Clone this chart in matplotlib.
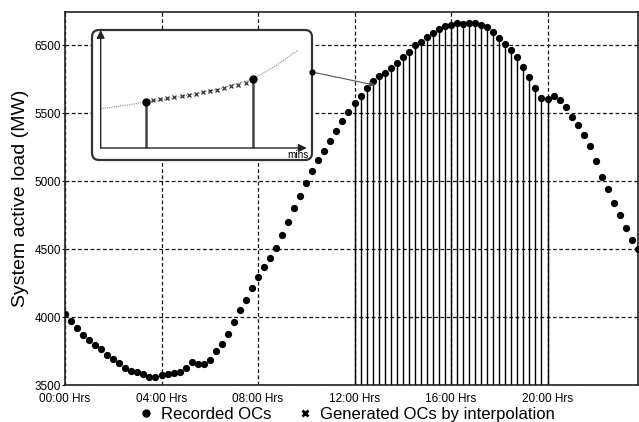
import numpy as np
import matplotlib.pyplot as plt
from matplotlib.patches import FancyBboxPatch

plt.rcParams['font.family'] = ['Liberation Sans', 'DejaVu Sans']

# recorded operating conditions, one every 15 minutes (MW)
load_mw = [4022, 3971, 3919, 3871, 3831, 3794, 3765, 3721, 3689, 3660, 3627, 3603,
           3593, 3581, 3561, 3559, 3571, 3581, 3586, 3598, 3623, 3667, 3657, 3654,
           3684, 3750, 3804, 3875, 3961, 4054, 4127, 4213, 4292, 4370, 4432, 4507,
           4601, 4701, 4801, 4892, 4988, 5076, 5158, 5224, 5294, 5368, 5443, 5505,
           5571, 5625, 5682, 5735, 5774, 5796, 5829, 5870, 5914, 5951, 6000, 6024,
           6057, 6090, 6116, 6140, 6147, 6160, 6157, 6164, 6160, 6147, 6130, 6098,
           6049, 6005, 5963, 5910, 5836, 5767, 5686, 5613, 5603, 5625, 5596, 5546,
           5473, 5412, 5338, 5257, 5149, 5032, 4939, 4840, 4750, 4652, 4566, 4498]
step_h = 0.25
stem_from, stem_to = 12.0, 20.0
pointer_idx = 51

x_ticks = [0, 4, 8, 12, 16, 20]
x_labels = ['00:00 Hrs', '04:00 Hrs', '08:00 Hrs', '12:00 Hrs', '16:00 Hrs', '20:00 Hrs']
y_ticks = [3500, 4000, 4500, 5000, 5500, 6000]
y_labels = ['3500', '4000', '4500', '5000', '5500', '6500']

# inset: minutes between two recorded points
inset_rec_min = [0, 15]
inset_rec_val = [46, 69]
inset_gen_min = [1, 2, 3, 4, 5, 6, 7, 8, 9, 10, 11, 12, 13, 14]
inset_gen_val = [48, 49, 50, 51, 52, 53.3, 54.3, 55.7, 57, 58.3, 60, 61.7, 63.3, 65.3]
inset_trend_min = [-6.4, -3, 0, 5, 10, 15, 18, 21.4]
inset_trend_val = [39.5, 42.5, 46, 51.5, 58.5, 69, 81, 98]

load = np.array(load_mw, dtype=float)
t = np.arange(len(load)) * step_h

fig = plt.figure(figsize=(6.39, 4.22), dpi=100)
ax = fig.add_axes([65 / 639, 1 - 385 / 422, 573 / 639, 373 / 422])

sel = (t >= stem_from) & (t <= stem_to)
ax.vlines(t[sel], 3500, load[sel], color='black', lw=1.0, zorder=2)
rec, = ax.plot(t, load, 'o', color='black', ms=4.2, zorder=3, label='Recorded OCs')

ax.set_xlim(0, 23.75)
ax.set_ylim(3500, 6243)
ax.set_xticks(x_ticks)
ax.set_xticklabels(x_labels)
ax.set_yticks(y_ticks)
ax.set_yticklabels(y_labels)
ax.tick_params(axis='x', length=0, pad=6, labelsize=8.5)
ax.tick_params(axis='y', length=2, pad=1, labelsize=8.5)
ax.grid(True, linestyle=(0, (3, 2)), color='#111', lw=0.9, zorder=1)
for s in ax.spines.values():
    s.set_color('#222')
    s.set_linewidth(1.2)
ax.set_ylabel('System active load (MW)', fontsize=14, labelpad=4)

# inset
ins = fig.add_axes([92 / 639, 1 - 160 / 422, 220 / 639, 130 / 422])
ins.set_zorder(5)
ins.axis('off')
ins.set_xlim(-7.59, 23.35)
ins.set_ylim(-12, 118)
box = FancyBboxPatch((0, 0), 1, 1, boxstyle='round,pad=0,rounding_size=0.032',
                     mutation_aspect=1.69, transform=ins.transAxes,
                     facecolor='white', edgecolor='#333', lw=1.6, clip_on=False, zorder=0)
ins.add_patch(box)

ins.plot(inset_trend_min, inset_trend_val, color='#888', lw=0.8, ls=(0, (1, 1)), zorder=1)
ins.vlines(inset_rec_min, 0, inset_rec_val, color='#444', lw=1.8, zorder=2)
gen, = ins.plot(inset_gen_min, inset_gen_val, 'x', color='#333', ms=3.5, mew=0.9, zorder=3,
                label='Generated OCs by interpolation')
ins.plot(inset_rec_min, inset_rec_val, 'o', color='black', ms=5, zorder=4)

arrow = dict(arrowstyle='-|>', color='#222', lw=1.0, mutation_scale=12,
             shrinkA=0, shrinkB=0)
ins.annotate('', xy=(22.6, 0), xytext=(-6.37, 0), arrowprops=arrow)
ins.annotate('', xy=(-6.37, 118), xytext=(-6.37, 0), arrowprops=arrow, annotation_clip=False)
ins.text(21.3, -7, 'mins', fontsize=7.2, ha='center', va='center')

# pointer from inset to the chart
start = (1.0, 0.677)
ins.plot(*start, 'o', color='black', ms=3.5, transform=ins.transAxes, clip_on=False, zorder=6)
ins.annotate('', xy=(t[pointer_idx] + 0.1, load[pointer_idx] - 30), xycoords=ax.transData,
             xytext=start, textcoords='axes fraction', annotation_clip=False,
             arrowprops=dict(arrowstyle='-|>', color='#555', lw=0.8, mutation_scale=8,
                             shrinkA=0, shrinkB=0))

# legend
leg_gen = plt.Line2D([], [], marker='x', ls='none', color='black', ms=5, mew=2)
leg_rec = plt.Line2D([], [], marker='o', ls='none', color='black', ms=5)
fig.legend([leg_rec, leg_gen], [rec.get_label(), gen.get_label()], loc='center',
           bbox_to_anchor=(0.543, 1 - 414.7 / 422), ncol=2, frameon=False, fontsize=12,
           handlelength=0.8, handletextpad=0.5, columnspacing=1.6, borderpad=0)

fig.savefig('out.png', dpi=100)
